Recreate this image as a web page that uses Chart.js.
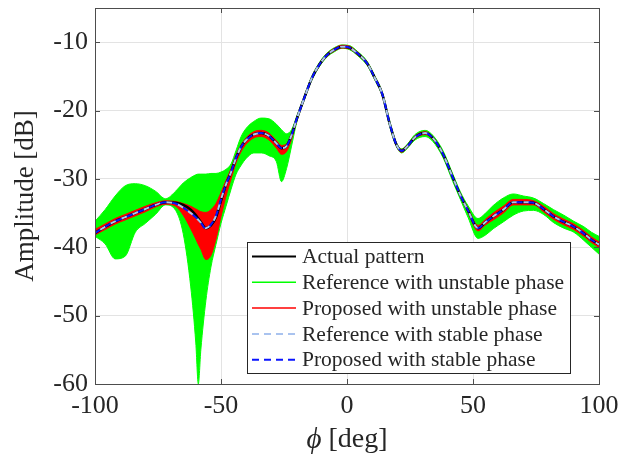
<!DOCTYPE html>
<html>
<head>
<meta charset="utf-8">
<script src="https://cdn.jsdelivr.net/npm/chart.js@4/dist/chart.umd.min.js"></script>
<style>
html,body{margin:0;padding:0;background:#fff;}
#wrap{width:641px;height:464px;}
</style>
</head>
<body>
<div id="wrap"><canvas id="c" width="641" height="464"></canvas></div>
<script>
// ---- data ----
const phiDeg = [-100,-96,-92,-88,-84,-80,-76,-72,-68,-65,-62,-60,-59,-58,-56,-54,-52,-50,-48,-46,-44,-42,-40,-37,-34,-31,-28,-26,-24,-22,-20,
  -17,-14,-11,-8,-5,-2,1,4,8,11,14,17,19.5,21.7,24,27,31,34,38,42,45,48,52,55,58,62,66,70,74,78,82,86,90,94,97,100];

const actualPattern = [-37.9,-37.0,-36.2,-35.6,-35.0,-34.4,-33.8,-33.4,-33.5,-33.8,-34.5,-35.3,-35.8,-36.3,-37.2,-36.8,-35.6,-33.2,
  -30.8,-29.0,-26.9,-25.3,-24.3,-23.5,-23.3,-23.7,-24.8,-25.5,-25.2,-23.6,-21.3,
  -18.2,-15.3,-13.3,-11.9,-11.1,-10.65,-10.8,-11.6,-13.1,-15.2,-17.6,-22.0,-24.9,-25.9,-25.2,-23.9,-23.3,-24.0,-26.3,-29.8,
  -32.4,-34.6,-37.2,-36.3,-35.5,-34.5,-33.4,-33.4,-33.5,-34.4,-35.5,-36.3,-37.0,-38.0,-38.9,-39.6];

const refUnstableUpper = [-36.2,-34.5,-32.5,-31.0,-30.7,-31.0,-31.8,-32.9,-31.8,-30.6,-29.8,-29.4,-29.3,-29.3,-29.3,-29.2,-29.2,-29.0,
  -28.6,-27.8,-25.8,-23.8,-22.6,-21.6,-21.1,-21.2,-22.0,-22.8,-23.4,-22.8,-20.9,
  -17.9,-15.0,-13.0,-11.6,-10.8,-10.4,-10.5,-11.3,-12.8,-14.9,-17.3,-21.6,-24.6,-25.6,-24.9,-23.5,-22.9,-23.6,-25.8,-29.3,
  -31.9,-33.9,-35.8,-35.0,-33.9,-32.8,-32.2,-32.5,-32.8,-33.6,-34.5,-35.3,-36.2,-37.0,-37.8,-38.4];

const refUnstableLower = [-38.4,-39.5,-41.7,-41.3,-37.8,-36.5,-35.2,-33.8,-34.6,-38.0,-45.8,-54.0,-60.0,-55.0,-47.8,-42.9,-39.6,-36.5,
  -34.0,-31.5,-29.3,-28.0,-27.0,-26.2,-26.2,-26.6,-27.5,-30.4,-28.5,-25.2,-21.8,
  -18.5,-15.6,-13.6,-12.2,-11.4,-10.9,-11.1,-11.9,-13.4,-15.5,-17.9,-22.4,-25.2,-26.2,-25.5,-24.3,-23.8,-24.5,-26.8,-30.4,
  -33.0,-35.6,-38.7,-38.2,-37.3,-36.3,-35.3,-34.7,-34.6,-35.2,-36.4,-37.2,-37.8,-39.0,-40.0,-41.0];

const propUnstableUpper = [-37.4,-36.6,-35.8,-35.2,-34.6,-34.0,-33.5,-33.2,-33.3,-33.6,-34.0,-34.4,-34.6,-34.8,-34.9,-34.5,-33.6,-32.0,
  -30.2,-28.5,-26.5,-25.0,-24.0,-23.1,-22.9,-23.3,-24.4,-25.1,-24.9,-23.3,-21.1,
  -18.0,-15.1,-13.1,-11.7,-10.9,-10.45,-10.6,-11.4,-12.9,-15.0,-17.4,-21.8,-24.7,-25.7,-25.0,-23.7,-23.1,-23.8,-26.1,-29.6,
  -32.2,-34.3,-36.8,-35.9,-35.0,-34.0,-33.0,-33.0,-33.2,-34.0,-35.1,-35.9,-36.6,-37.6,-38.5,-39.2];

const propUnstableLower = [-38.2,-37.4,-36.6,-36.0,-35.4,-34.8,-34.1,-33.7,-34.0,-35.3,-37.3,-38.8,-39.6,-40.3,-41.8,-41.2,-38.8,-35.5,
  -32.5,-30.0,-27.6,-26.0,-24.9,-24.0,-23.8,-24.3,-25.5,-26.4,-26.0,-24.2,-21.6,
  -18.4,-15.5,-13.5,-12.1,-11.3,-10.85,-11.0,-11.8,-13.3,-15.4,-17.8,-22.2,-25.1,-26.1,-25.4,-24.1,-23.5,-24.2,-26.5,-30.0,
  -32.6,-34.9,-37.6,-36.7,-36.0,-35.0,-33.8,-33.8,-33.8,-34.8,-35.9,-36.7,-37.4,-38.4,-39.3,-40.0];

const refStable = [-37.9,-37.0,-36.2,-35.6,-35.0,-34.4,-33.8,-33.4,-33.6,-34.2,-35.0,-35.6,-36.0,-36.4,-37.2,-36.7,-35.4,-33.0,
  -30.8,-29.0,-26.9,-25.3,-24.3,-23.5,-23.3,-23.7,-24.8,-25.5,-25.2,-23.6,-21.3,
  -18.2,-15.3,-13.3,-11.9,-11.1,-10.65,-10.8,-11.6,-13.1,-15.2,-17.6,-22.0,-24.9,-25.9,-25.2,-23.9,-23.3,-24.0,-26.3,-29.8,
  -32.4,-34.6,-37.2,-36.3,-35.5,-34.5,-33.4,-33.4,-33.5,-34.4,-35.5,-36.3,-37.0,-38.0,-38.9,-39.6];

const propStable = [-37.9,-37.0,-36.2,-35.6,-35.0,-34.4,-33.8,-33.4,-33.6,-34.2,-35.0,-35.6,-36.0,-36.4,-37.3,-36.7,-35.4,-33.0,
  -30.8,-29.0,-26.9,-25.3,-24.3,-23.5,-23.3,-23.7,-24.8,-25.5,-25.2,-23.6,-21.3,
  -18.2,-15.3,-13.3,-11.9,-11.1,-10.65,-10.8,-11.6,-13.1,-15.2,-17.6,-22.0,-24.9,-25.9,-25.2,-23.9,-23.3,-24.0,-26.3,-29.8,
  -32.4,-34.6,-37.2,-36.3,-35.5,-34.5,-33.4,-33.4,-33.5,-34.4,-35.5,-36.3,-37.0,-38.0,-38.9,-39.6];

const xTicks = [-100,-50,0,50,100];
const yTicks = [-60,-50,-40,-30,-20,-10];
const xTitle = ['\u03D5', ' [deg]'];
const yTitle = 'Amplitude [dB]';
const legendLabels = ['Actual pattern','Reference with unstable phase','Proposed with unstable phase','Reference with stable phase','Proposed with stable phase'];

// ---- chart ----
const SERIF = '"Liberation Serif", "Times New Roman", serif';
const TXT = '#262626';
const pts = arr => phiDeg.map((x,i)=>({x:x, y:arr[i]}));
const GREEN='#00ff00', RED='#ff0000', LBLUE='#a9c3ef', BLUE='#0a14ff';

const datasets = [
  {label:'gU', data:pts(refUnstableUpper), borderColor:GREEN, borderWidth:1, fill:false, order:10},
  {label:legendLabels[1], data:pts(refUnstableLower), borderColor:GREEN, borderWidth:1, backgroundColor:GREEN, fill:'-1', order:9},
  {label:'rU', data:pts(propUnstableUpper), borderColor:RED, borderWidth:1, fill:false, order:8},
  {label:legendLabels[2], data:pts(propUnstableLower), borderColor:RED, borderWidth:1, backgroundColor:RED, fill:'-1', order:7},
  {label:legendLabels[0], data:pts(actualPattern), borderColor:'#000000', borderWidth:2.5, fill:false, order:4},
  {label:legendLabels[3], data:pts(refStable), borderColor:LBLUE, borderWidth:2, borderDash:[6,6], borderDashOffset:6, fill:false, order:3},
  {label:legendLabels[4], data:pts(propStable), borderColor:BLUE, borderWidth:2, borderDash:[6,6], fill:false, order:2}
];
datasets.forEach(d=>{d.pointRadius=0; d.cubicInterpolationMode='monotone'; d.tension=0.4;});

const frame = {
  id:'frame',
  afterDatasetsDraw(chart){
    const {ctx, chartArea:a, scales:{x,y}} = chart;
    ctx.save();
    ctx.strokeStyle = '#4d4d4d';
    ctx.lineWidth = 1;
    ctx.strokeRect(Math.round(a.left)+0.5, Math.round(a.top)+0.5, Math.round(a.right-a.left), Math.round(a.bottom-a.top));
    ctx.beginPath();
    xTicks.forEach(v=>{const px=Math.round(x.getPixelForValue(v))+0.5;
      ctx.moveTo(px,a.bottom); ctx.lineTo(px,a.bottom-5); ctx.moveTo(px,a.top); ctx.lineTo(px,a.top+5);});
    yTicks.forEach(v=>{const py=Math.round(y.getPixelForValue(v))+0.5;
      ctx.moveTo(a.left,py); ctx.lineTo(a.left+5,py); ctx.moveTo(a.right,py); ctx.lineTo(a.right-5,py);});
    ctx.stroke();
    ctx.restore();
  },
  afterDraw(chart){
    const {ctx, chartArea:a} = chart;
    ctx.save();
    // axis titles
    ctx.fillStyle = TXT;
    ctx.font = '27px ' + SERIF;
    ctx.textBaseline = 'middle';
    ctx.textAlign = 'center';
    ctx.save();
    ctx.translate(26, (a.top+a.bottom)/2);
    ctx.rotate(-Math.PI/2);
    ctx.fillText(yTitle, 0, 0);
    ctx.restore();
    const f1 = 'italic 29px ' + SERIF, f2 = '28px ' + SERIF;
    ctx.font = f1; const w1 = ctx.measureText(xTitle[0]).width;
    ctx.font = f2; const w2 = ctx.measureText(xTitle[1]).width;
    const cx = (a.left+a.right)/2, sx = cx-(w1+w2)/2, ty = 440;
    ctx.textAlign = 'left';
    ctx.font = f1; ctx.fillText(xTitle[0], sx, ty);
    ctx.font = f2; ctx.fillText(xTitle[1], sx+w1, ty);
    // legend
    const L = {x:247, y:242, w:323, h:131};
    ctx.fillStyle = '#ffffff';
    ctx.fillRect(L.x, L.y, L.w, L.h);
    ctx.strokeStyle = '#262626'; ctx.lineWidth = 1;
    ctx.strokeRect(L.x+0.5, L.y+0.5, L.w, L.h);
    const items = [
      {c:'#000000', dash:[], w:2},
      {c:GREEN, dash:[], w:1.5},
      {c:RED, dash:[], w:1.5},
      {c:LBLUE, dash:[7,5], w:2},
      {c:BLUE, dash:[7,5], w:2}
    ];
    ctx.font = '21.5px ' + SERIF;
    ctx.textBaseline = 'middle';
    items.forEach((it,i)=>{
      const yy = 256.5 + i*25.8;
      ctx.beginPath(); ctx.setLineDash(it.dash); ctx.strokeStyle = it.c; ctx.lineWidth = it.w;
      ctx.moveTo(252, yy); ctx.lineTo(296, yy); ctx.stroke();
      ctx.setLineDash([]);
      ctx.fillStyle = TXT;
      ctx.fillText(legendLabels[i], 302, yy+1);
    });
    ctx.restore();
  }
};

new Chart(document.getElementById('c'), {
  type:'line',
  data:{datasets},
  options:{
    responsive:false, animation:false, maintainAspectRatio:false,
    layout:{padding:{left:0, top:8, right:42, bottom:0}},
    plugins:{legend:{display:false}, tooltip:{enabled:false}},
    scales:{
      x:{type:'linear', min:-100, max:100,
        afterBuildTicks(s){ s.ticks = xTicks.map(v=>({value:v})); },
        afterFit(s){ s.height = 80; s.paddingLeft = 0; s.paddingRight = 0; },
        grid:{color:'#e3e3e3', drawTicks:false},
        border:{display:false},
        ticks:{font:{family:SERIF, size:26}, color:TXT, padding:7, maxRotation:0}},
      y:{type:'linear', min:-60, max:-5,
        afterBuildTicks(s){ s.ticks = yTicks.map(v=>({value:v})); },
        afterFit(s){ s.width = 95; s.paddingTop = 0; s.paddingBottom = 0; },
        grid:{color:'#e3e3e3', drawTicks:false},
        border:{display:false},
        ticks:{font:{family:SERIF, size:26}, color:TXT, padding:7}}
    }
  },
  plugins:[frame]
});
</script>
</body>
</html>
